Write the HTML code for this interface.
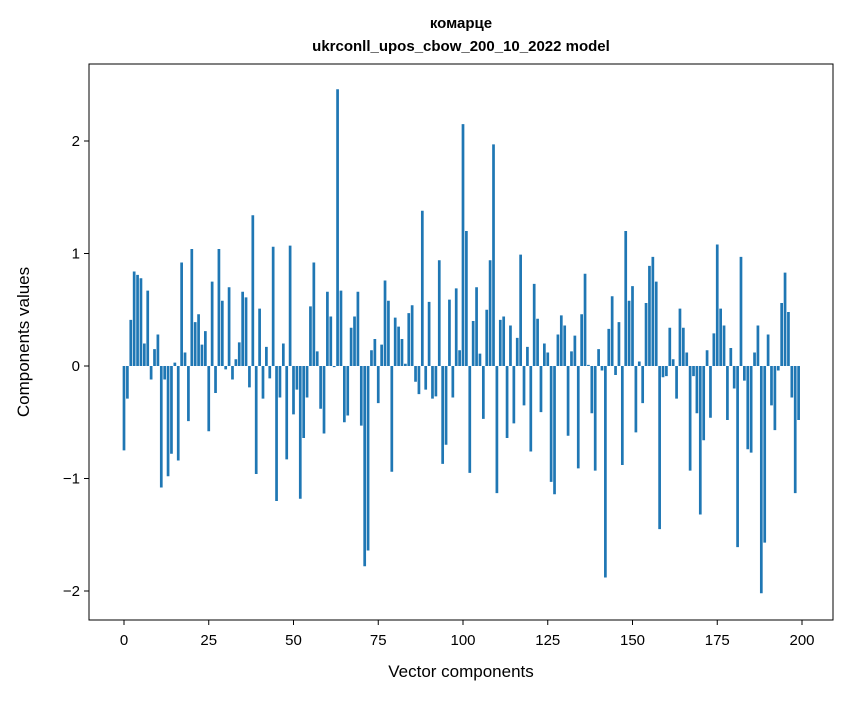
<!DOCTYPE html>
<html><head><meta charset="utf-8"><style>
body{margin:0;background:#fff;}
svg text{font-family:"Liberation Sans","DejaVu Sans",sans-serif;fill:#000;}
</style></head><body>
<svg id="chart" width="847" height="696" xmlns="http://www.w3.org/2000/svg">
<rect width="847" height="696" fill="#fff"/>
<text x="461" y="28" font-size="15" font-weight="bold" text-anchor="middle">комарце</text>
<text x="461" y="51" font-size="15" font-weight="bold" text-anchor="middle">ukrconll_upos_cbow_200_10_2022 model</text>
<g id="bars"></g>
<g id="axes"></g>
<rect x="89" y="64" width="744" height="556" fill="none" stroke="#000" stroke-width="1"/>
<text x="461" y="677" font-size="17" text-anchor="middle">Vector components</text>
<text transform="translate(29,342) rotate(-90)" font-size="17" text-anchor="middle">Components values</text>
</svg>
<script>
const values = [
-0.75,-0.29,0.41,0.84,0.81,0.78,0.20,0.67,-0.12,0.15,
0.28,-1.08,-0.12,-0.98,-0.78,0.03,-0.84,0.92,0.12,-0.49,
1.04,0.39,0.46,0.19,0.31,-0.58,0.75,-0.24,1.04,0.58,
-0.03,0.70,-0.12,0.06,0.21,0.66,0.61,-0.19,1.34,-0.96,
0.51,-0.29,0.17,-0.11,1.06,-1.20,-0.28,0.20,-0.83,1.07,
-0.43,-0.21,-1.18,-0.64,-0.28,0.53,0.92,0.13,-0.38,-0.60,
0.66,0.44,-0.01,2.46,0.67,-0.50,-0.44,0.34,0.44,0.66,
-0.53,-1.78,-1.64,0.14,0.24,-0.33,0.19,0.76,0.58,-0.94,
0.43,0.35,0.24,0.02,0.47,0.54,-0.14,-0.25,1.38,-0.21,
0.57,-0.29,-0.27,0.94,-0.87,-0.70,0.59,-0.28,0.69,0.14,
2.15,1.20,-0.95,0.40,0.70,0.11,-0.47,0.50,0.94,1.97,
-1.13,0.41,0.44,-0.64,0.36,-0.51,0.25,0.99,-0.35,0.17,
-0.76,0.73,0.42,-0.41,0.20,0.12,-1.03,-1.14,0.28,0.45,
0.36,-0.62,0.13,0.27,-0.91,0.46,0.82,0.01,-0.42,-0.93,
0.15,-0.04,-1.88,0.33,0.62,-0.08,0.39,-0.88,1.20,0.58,
0.71,-0.59,0.04,-0.33,0.56,0.89,0.97,0.75,-1.45,-0.10,
-0.09,0.34,0.06,-0.29,0.51,0.34,0.12,-0.93,-0.09,-0.42,
-1.32,-0.66,0.14,-0.46,0.29,1.08,0.51,0.36,-0.48,0.16,
-0.20,-1.61,0.97,-0.13,-0.74,-0.77,0.12,0.36,-2.02,-1.57,
0.28,-0.35,-0.57,-0.04,0.56,0.83,0.48,-0.28,-1.13,-0.48
];
const xTicks = [0,25,50,75,100,125,150,175,200];
const yTicks = [-2,-1,0,1,2];
const yTickLabels = ["\u22122","\u22121","0","1","2"];

const NS="http://www.w3.org/2000/svg";
function xs(v){return 124 + (v)*(678/200);}
function ys(v){return 366 - v*112.5;}
const bars=document.getElementById('bars');
values.forEach((v,i)=>{
  const r=document.createElementNS(NS,'rect');
  const w=0.8*678/200;
  r.setAttribute('x',xs(i)-w/2);
  r.setAttribute('y',Math.min(ys(v),ys(0)));
  r.setAttribute('width',w);
  r.setAttribute('height',Math.abs(ys(v)-ys(0)));
  r.setAttribute('fill','#1f77b4');
  
  
  bars.appendChild(r);
});
const axes=document.getElementById('axes');
xTicks.forEach(t=>{
  const l=document.createElementNS(NS,'line');
  l.setAttribute('x1',xs(t));l.setAttribute('x2',xs(t));
  l.setAttribute('y1',620);l.setAttribute('y2',625);
  l.setAttribute('stroke','#000');
  
  
  axes.appendChild(l);
  const tx=document.createElementNS(NS,'text');
  tx.setAttribute('x',xs(t));tx.setAttribute('y',645);
  tx.setAttribute('font-size','15');tx.setAttribute('text-anchor','middle');
  tx.textContent=t;
  
  
  axes.appendChild(tx);
});
yTicks.forEach((t,k)=>{
  const l=document.createElementNS(NS,'line');
  l.setAttribute('x1',84);l.setAttribute('x2',89);
  l.setAttribute('y1',ys(t));l.setAttribute('y2',ys(t));
  l.setAttribute('stroke','#000');
  
  
  axes.appendChild(l);
  const tx=document.createElementNS(NS,'text');
  tx.setAttribute('x',80);tx.setAttribute('y',ys(t)+5);
  tx.setAttribute('font-size','15');tx.setAttribute('text-anchor','end');
  tx.textContent=yTickLabels[k];
  
  
  axes.appendChild(tx);
});
</script>
</body></html>
